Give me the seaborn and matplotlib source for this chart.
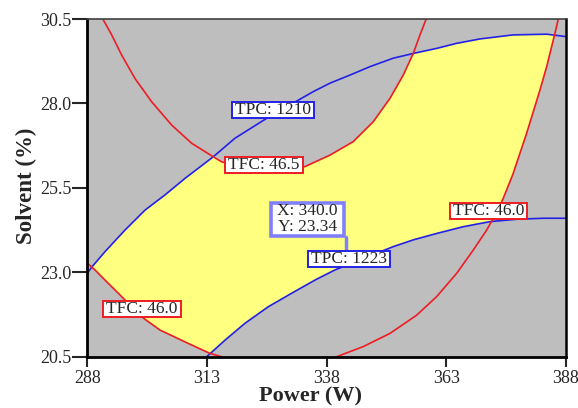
import matplotlib
matplotlib.use("Agg")
import matplotlib.pyplot as plt
from matplotlib.path import Path
import seaborn as sns

# overlay plot: Power (W) vs Solvent (%), contours
tpc1210_x = [288.0, 288.92, 291.70, 295.88, 300.05, 304.23, 308.41, 314.32, 318.85, 325.48,
             331.74, 335.21, 338.70, 342.88, 347.06, 351.92, 356.10, 360.99, 365.17, 370.04,
             376.99, 383.97, 388.0]
tpc1210_y = [22.97, 23.15, 23.61, 24.25, 24.84, 25.29, 25.78, 26.42, 26.97, 27.56,
             28.07, 28.35, 28.60, 28.84, 29.09, 29.34, 29.48, 29.63, 29.78, 29.91,
             30.03, 30.05, 29.98]

tpc1223_x = [312.94, 316.77, 320.94, 325.81, 330.70, 335.57, 339.74, 351.92, 356.10, 360.99,
             366.55, 372.12, 377.70, 383.26, 388.0]
tpc1223_y = [20.5, 20.99, 21.49, 21.98, 22.38, 22.77, 23.07, 23.76, 23.96, 24.15,
             24.35, 24.50, 24.57, 24.60, 24.60]

tfc465_x = [291.25, 293.10, 295.19, 297.96, 301.45, 305.63, 309.81, 314.32, 316.08, 319.90,
            325.12, 329.90, 333.48, 338.70, 343.57, 347.75, 351.23, 354.01, 356.10, 357.50, 358.8]
tfc465_y = [30.5, 30.03, 29.43, 28.74, 28.05, 27.36, 26.82, 26.42, 26.27, 26.13,
            26.06, 26.07, 26.13, 26.47, 26.87, 27.46, 28.15, 28.84, 29.48, 30.03, 30.5]

tfc46_left_x = [288.0, 289.61, 291.70, 294.48, 299.36, 303.19, 308.7, 313.6, 316.1]
tfc46_left_y = [23.27, 23.07, 22.77, 22.38, 21.68, 21.29, 20.92, 20.60, 20.5]

tfc46_right_x = [340.10, 345.66, 351.23, 356.81, 360.99, 365.17, 368.64, 371.43, 372.81, 374.84,
                 376.93, 379.79, 382.57, 383.97, 385.70, 386.39]
tfc46_right_y = [20.5, 20.80, 21.19, 21.73, 22.28, 22.97, 23.66, 24.25, 24.60, 25.17,
                 25.91, 27.12, 28.40, 29.09, 30.08, 30.5]

# yellow (feasible) region, boundary traced along the curves above
region_x = [288.94, 291.70, 295.88, 300.05, 304.23, 308.41, 314.32,
            316.08, 319.90, 325.12, 329.90, 333.48, 338.70, 343.57, 347.75, 351.23, 354.01, 356.10,
            360.99, 365.17, 370.04, 376.99, 383.97, 385.6,
            383.97, 382.57, 379.79, 376.93, 374.84, 372.75,
            366.55, 360.99, 356.10, 351.92, 339.74, 335.57, 330.70, 325.81, 320.94, 316.77, 313.68,
            308.7, 303.19, 299.36, 294.48, 291.70, 289.61]
region_y = [23.15, 23.61, 24.25, 24.84, 25.29, 25.78, 26.42,
            26.27, 26.13, 26.06, 26.07, 26.13, 26.47, 26.87, 27.46, 28.15, 28.84, 29.48,
            29.63, 29.78, 29.91, 30.03, 30.05, 30.04,
            29.09, 28.40, 27.12, 25.91, 25.17, 24.51,
            24.35, 24.15, 23.96, 23.76, 23.07, 22.77, 22.38, 21.98, 21.49, 20.99, 20.595,
            20.92, 21.29, 21.68, 22.38, 22.77, 23.07]

x_ticks = [288, 313, 338, 363, 388]
y_ticks = [20.5, 23.0, 25.5, 28.0, 30.5]

flag_x = 342.0
flag_y = 23.58
flag_text = "X: 340.0\nY: 23.34"

RED = "#ee1c24"
BLUE = "#2222e6"


def tight_box(padx, pady):
    def box(x0, y0, width, height, mutation_size):
        dx = padx * mutation_size
        dy = pady * mutation_size
        return Path([(x0 - dx, y0 - dy), (x0 + width + dx, y0 - dy),
                     (x0 + width + dx, y0 + height + dy), (x0 - dx, y0 + height + dy),
                     (x0 - dx, y0 - dy)], closed=True)
    return box


sns.set_style("white")
plt.rcParams["font.family"] = ["Liberation Serif", "DejaVu Serif"]

fig = plt.figure(figsize=(5.78, 4.08), dpi=100)
ax = fig.add_axes([0.151, 0.1257, 0.8282, 0.8277])
ax.set_facecolor("#bebebe")

ax.fill(region_x, region_y, color="#ffff80", lw=0, zorder=1)

curves = [(tpc1210_x, tpc1210_y, BLUE), (tpc1223_x, tpc1223_y, BLUE),
          (tfc465_x, tfc465_y, RED), (tfc46_left_x, tfc46_left_y, RED),
          (tfc46_right_x, tfc46_right_y, RED)]
for cx, cy, col in curves:
    sns.lineplot(x=cx, y=cy, sort=False, estimator=None, color=col, lw=1.2, ax=ax, zorder=2)

labels = [("TPC: 1210", 326.86, 27.81, BLUE), ("TFC: 46.5", 324.87, 26.18, RED),
          ("TFC: 46.0", 299.47, 21.92, RED), ("TFC: 46.0", 371.81, 24.82, RED),
          ("TPC: 1223", 342.71, 23.38, BLUE)]
for txt, lx, ly, col in labels:
    ax.text(lx, ly, txt, ha="center", va="center", fontsize=12.5, zorder=5,
            bbox=dict(boxstyle=tight_box(0.18, 0.0), fc="white", ec=col, lw=1.4))

# flag
ax.plot([flag_x, flag_x], [flag_y, 24.05], color="#8080ff", lw=2.5, zorder=4,
        solid_capstyle="round")
ax.plot([flag_x], [flag_y], "o", color="#8080ff", ms=3.5, zorder=4)
ax.text(334.0, 24.57, flag_text, ha="center", va="center", fontsize=12.5, zorder=6,
        linespacing=1.0,
        bbox=dict(boxstyle=tight_box(0.38, 0.04), fc="white", ec="#8080ff", lw=2.6))

ax.set_xlim(288, 388)
ax.set_ylim(20.5, 30.5)
ax.set_xticks(x_ticks)
ax.set_xticklabels([str(t) for t in x_ticks])
ax.set_yticks(y_ticks)
ax.set_yticklabels(["%.1f" % t for t in y_ticks])
ax.tick_params(axis="x", direction="out", length=7, width=1.5, pad=2.5, labelsize=13,
               bottom=True)
ax.tick_params(axis="y", direction="out", length=10.5, width=1.5, pad=1, labelsize=13,
               left=True)

for side in ["left", "bottom"]:
    ax.spines[side].set_linewidth(2)
    ax.spines[side].set_color("black")
ax.spines["top"].set_linewidth(1.2)
ax.spines["top"].set_color("#404040")
ax.spines["right"].set_linewidth(1.8)
ax.spines["right"].set_color("black")

ax.set_xlabel("Power (W)", fontsize=16, fontweight="bold")
ax.xaxis.set_label_coords(0.467, -0.089)
ax.set_ylabel("Solvent (%)", fontsize=16.5, fontweight="bold")
ax.yaxis.set_label_coords(-0.105, 0.505)

fig.savefig("out.png", dpi=100)
